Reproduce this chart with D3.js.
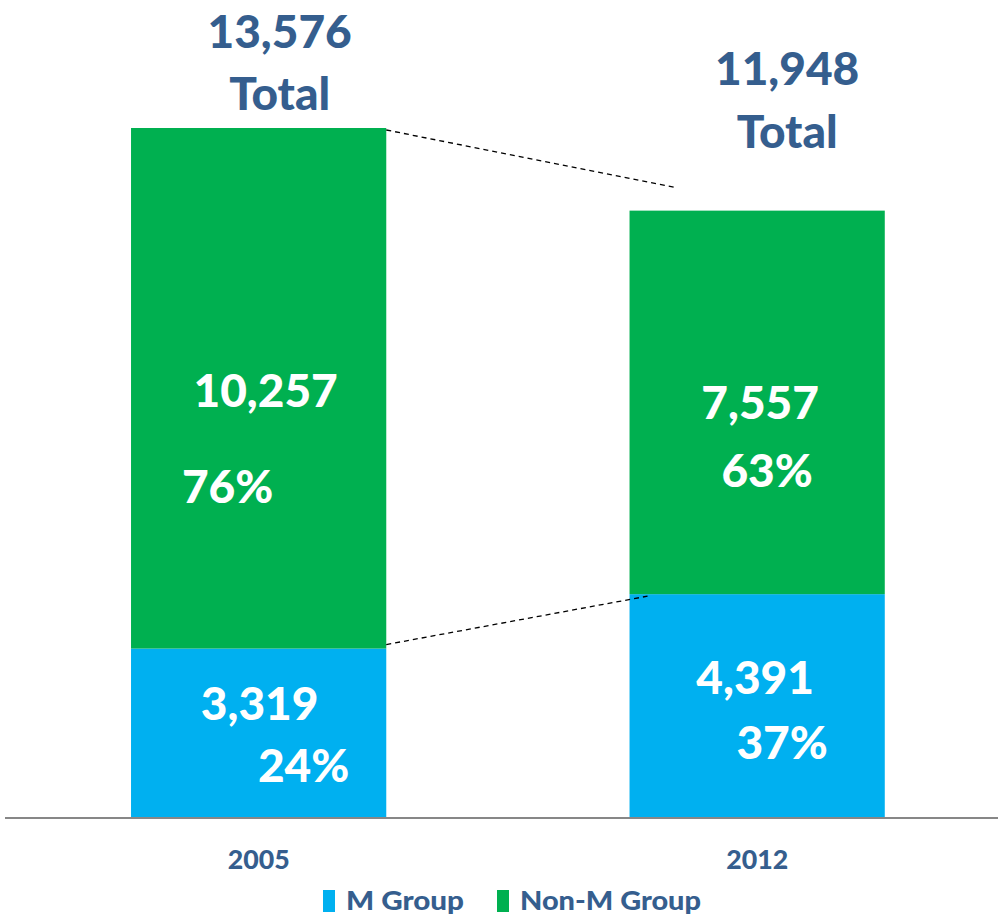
<!DOCTYPE html>
<meta charset="utf-8" />
<html>
<head>
<script src="https://d3js.org/d3.v7.min.js"></script>
<style>
  body { margin: 0; background: #fff; }
  text { font-family: Lato, "Open Sans", sans-serif; font-weight: 900; }
</style>
</head>
<body>
<svg width="998" height="917"></svg>
<script>
// chart data
var years = ["2005", "2012"];
var seriesNames = ["M Group", "Non-M Group"];
var mGroup = [3319, 4391];
var nonMGroup = [10257, 7557];
var totals = [13576, 11948];
var mPct = ["24%", "37%"];
var nonMPct = ["76%", "63%"];

var blue = "#00B0F0", green = "#00B050", textBlue = "#355E8E";

var svg = d3.select("svg");
var baseY = 817;

var x = d3.scaleBand().domain(years).range([6.4, 1009.4])
    .paddingInner(0.488).paddingOuter(0.25);
var y = d3.scaleLinear().domain([0, 13576]).range([baseY, 128]);

var fmt = d3.format(",");

// stacked bars
years.forEach(function(yr, i) {
    svg.append("rect")
        .attr("x", x(yr)).attr("width", x.bandwidth())
        .attr("y", y(mGroup[i])).attr("height", baseY - y(mGroup[i]))
        .attr("fill", blue);
    svg.append("rect")
        .attr("x", x(yr)).attr("width", x.bandwidth())
        .attr("y", y(mGroup[i] + nonMGroup[i])).attr("height", y(mGroup[i]) - y(mGroup[i] + nonMGroup[i]))
        .attr("fill", green);
});

// axis line
svg.append("line").attr("x1", 5).attr("x2", 998).attr("y1", baseY + 1).attr("y2", baseY + 1)
    .attr("stroke", "#878787").attr("stroke-width", 2);

// dashed connectors
var xa = x("2005") + x.bandwidth(), xb = x("2012");
svg.append("line")
    .attr("x1", xa).attr("y1", y(totals[0]) + 2)
    .attr("x2", xb + 46).attr("y2", y(totals[0]) + (y(totals[1]) - y(totals[0])) * 0.72)
    .attr("stroke", "#000").attr("stroke-width", 1.3).attr("stroke-dasharray", "5,4");
svg.append("line")
    .attr("x1", xa).attr("y1", y(mGroup[0]) - 4)
    .attr("x2", xb + 18).attr("y2", y(mGroup[1]) + 2)
    .attr("stroke", "#000").attr("stroke-width", 1.3).attr("stroke-dasharray", "5,4");

// label layout (offsets from bar centre)
var lab = [
    { total: [21, 48, 110], nonM: [7, 407], nonMP: [-31, 503], m: [1, 720], mP: [45, 782] },
    { total: [30, 85, 148], nonM: [3, 419], nonMP: [10, 487], m: [-2, 694], mP: [25, 759] }
];

function txt(xp, yp, s, size, color) {
    return svg.append("text").attr("x", xp).attr("y", yp)
        .attr("text-anchor", "middle").attr("font-size", size)
        .attr("fill", color).text(s);
}

years.forEach(function(yr, i) {
    var cx = x(yr) + x.bandwidth() / 2, L = lab[i];
    txt(cx + L.total[0], L.total[1], fmt(totals[i]), 46, textBlue);
    txt(cx + L.total[0], L.total[2], "Total", 46, textBlue);
    txt(cx + L.nonM[0], L.nonM[1], fmt(nonMGroup[i]), 46, "#fff");
    txt(cx + L.nonMP[0], L.nonMP[1], nonMPct[i], 46, "#fff");
    txt(cx + L.m[0], L.m[1], fmt(mGroup[i]), 46, "#fff");
    txt(cx + L.mP[0], L.mP[1], mPct[i], 46, "#fff");
    txt(cx, 869, yr, 26, textBlue)
        .attr("textLength", 62).attr("lengthAdjust", "spacingAndGlyphs");
});

// legend
var legX = [323, 497];
var legColors = [blue, green];
seriesNames.forEach(function(n, i) {
    svg.append("rect").attr("x", legX[i]).attr("y", 890).attr("width", 12).attr("height", 22)
        .attr("fill", legColors[i]);
    svg.append("text").attr("x", legX[i] + 23).attr("y", 910)
        .attr("font-size", 27).attr("fill", textBlue)
        .attr("textLength", i === 0 ? 118 : 181).attr("lengthAdjust", "spacingAndGlyphs")
        .text(n);
});
</script>
</body>
</html>
